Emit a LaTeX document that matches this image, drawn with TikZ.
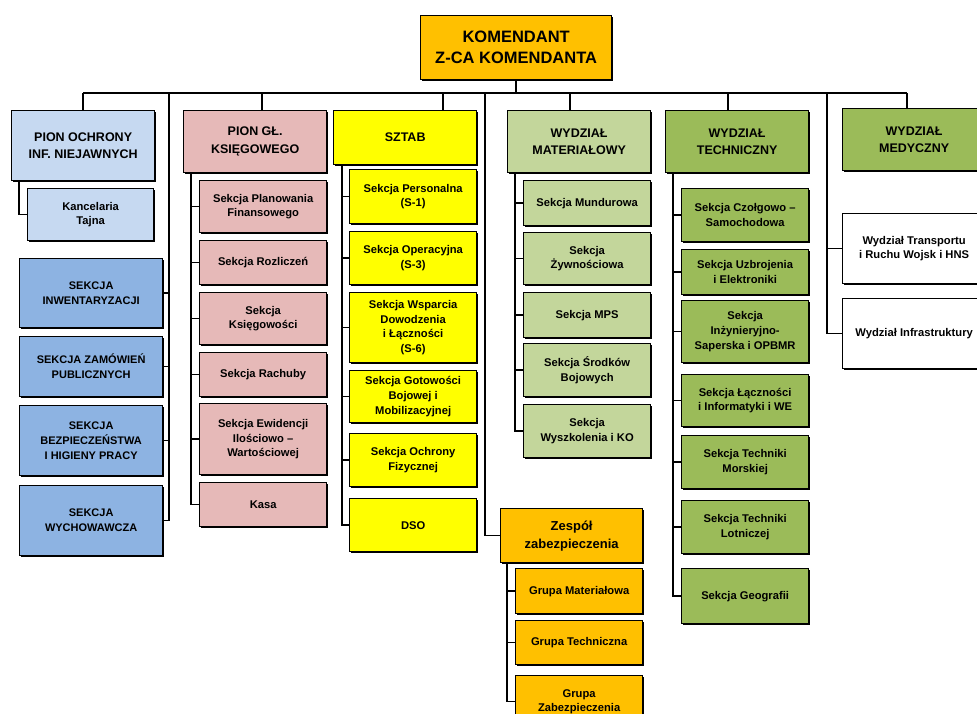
\documentclass[tikz,border=0pt]{standalone}
\usepackage{fontspec}
\setmainfont{Liberation Sans}
\usetikzlibrary{shadows}
\definecolor{orng}{HTML}{FFC000}
\definecolor{lblue}{HTML}{C6D9F1}
\definecolor{mblue}{HTML}{8DB3E2}
\definecolor{pink}{HTML}{E6B9B8}
\definecolor{yell}{HTML}{FFFF00}
\definecolor{lgreen}{HTML}{C3D69B}
\definecolor{green}{HTML}{9BBB59}
\tikzstyle{headbox}=[draw,line width=1.3pt,drop shadow={shadow xshift=1.2pt,shadow yshift=-1.2pt,opacity=1,fill=black},anchor=north west,align=center,inner sep=0pt,minimum width=143pt,minimum height=62pt,font=\fontsize{12.5}{17.5}\selectfont\bfseries]
\tikzstyle{sectbox}=[headbox,minimum width=127pt,minimum height=52pt,font=\fontsize{11.2}{14.8}\selectfont\bfseries]
\tikzstyle{capsbox}=[sectbox,minimum width=143pt,font=\fontsize{11}{15}\selectfont\bfseries]
\tikzstyle{link}=[line width=1.5pt]

\begin{document}
\begin{tikzpicture}[x=1pt,y=-1pt]
\useasboundingbox (0,0) rectangle (977,714);

%top
\node[headbox,fill=orng,minimum width=191pt,minimum height=64pt,font=\fontsize{16.5}{21}\selectfont\bfseries] (kom) at (420,15) {KOMENDANT\\Z-CA KOMENDANTA};

%pion ochrony
\node[headbox,fill=lblue,minimum height=70pt] (pion) at (11,110) {PION OCHRONY\\INF. NIEJAWNYCH};
\node[sectbox,fill=lblue,minimum width=126pt] (kanc) at (27,188) {Kancelaria\\Tajna};
\node[capsbox,fill=mblue,minimum height=69pt] (inw) at (19,258) {SEKCJA\\INWENTARYZACJI};
\node[capsbox,fill=mblue,minimum height=60pt] (zam) at (19,336) {SEKCJA ZAMÓWIEŃ\\PUBLICZNYCH};
\node[capsbox,fill=mblue,minimum height=70pt] (bhp) at (19,405) {SEKCJA\\BEZPIECZEŃSTWA\\I HIGIENY PRACY};
\node[capsbox,fill=mblue,minimum height=70pt] (wych) at (19,485) {SEKCJA\\WYCHOWAWCZA};

%pion gl. ksiegowego
\node[headbox,fill=pink] (ksieg) at (183,110) {PION GŁ.\\KSIĘGOWEGO};
\node[sectbox,fill=pink] (plan) at (199,180) {Sekcja Planowania\\Finansowego};
\node[sectbox,fill=pink,minimum height=44pt] (rozl) at (199,240) {Sekcja Rozliczeń};
\node[sectbox,fill=pink] (ksg) at (199,292) {Sekcja\\Księgowości};
\node[sectbox,fill=pink,minimum height=44pt] (rach) at (199,352) {Sekcja Rachuby};
\node[sectbox,fill=pink,minimum height=71pt] (ewid) at (199,403) {Sekcja Ewidencji\\Ilościowo --\\Wartościowej};
\node[sectbox,fill=pink,minimum height=44pt] (kasa) at (199,482) {Kasa};

%sztab
\node[headbox,fill=yell,minimum height=54pt] (sztab) at (333,110) {SZTAB};
\node[sectbox,fill=yell,minimum height=54pt] (s1) at (349,169) {Sekcja Personalna\\(S-1)};
\node[sectbox,fill=yell,minimum height=53pt] (s3) at (349,231) {Sekcja Operacyjna\\(S-3)};
\node[sectbox,fill=yell,minimum height=70pt] (s6) at (349,292) {Sekcja Wsparcia\\Dowodzenia\\i Łączności\\(S-6)};
\node[sectbox,fill=yell] (gbm) at (349,370) {Sekcja Gotowości\\Bojowej i\\Mobilizacyjnej};
\node[sectbox,fill=yell,minimum height=53pt] (ochr) at (349,433) {Sekcja Ochrony\\Fizycznej};
\node[sectbox,fill=yell,minimum height=53pt] (dso) at (349,498) {DSO};

%zespol
\node[headbox,fill=orng,minimum width=142pt,minimum height=54pt,font=\fontsize{13}{18}\selectfont\bfseries] (zesp) at (500,508) {Zespół\\zabezpieczenia};
\node[sectbox,fill=orng,minimum height=45pt] (gmat) at (515,568) {Grupa Materiałowa};
\node[sectbox,fill=orng,minimum height=44pt] (gtech) at (515,620) {Grupa Techniczna};
\node[sectbox,fill=orng] (gzab) at (515,675) {Grupa\\Zabezpieczenia};

%wydzial materialowy
\node[headbox,fill=lgreen] (mat) at (507,110) {WYDZIAŁ\\MATERIAŁOWY};
\node[sectbox,fill=lgreen,minimum height=45pt] (mund) at (523,180) {Sekcja Mundurowa};
\node[sectbox,fill=lgreen] (zyw) at (523,232) {Sekcja\\Żywnościowa};
\node[sectbox,fill=lgreen,minimum height=45pt] (mps) at (523,292) {Sekcja MPS};
\node[sectbox,fill=lgreen,minimum height=53pt] (srod) at (523,343) {Sekcja Środków\\Bojowych};
\node[sectbox,fill=lgreen,minimum height=53pt] (wysz) at (523,404) {Sekcja\\Wyszkolenia i KO};

%wydzial techniczny
\node[headbox,fill=green] (tech) at (665,110) {WYDZIAŁ\\TECHNICZNY};
\node[sectbox,fill=green,minimum height=53pt] (czol) at (681,188) {Sekcja Czołgowo --\\Samochodowa};
\node[sectbox,fill=green,minimum height=45pt] (uzbr) at (681,249) {Sekcja Uzbrojenia\\i Elektroniki};
\node[sectbox,fill=green,minimum height=62pt] (inz) at (681,300) {Sekcja\\Inżynieryjno-\\Saperska i OPBMR};
\node[sectbox,fill=green] (lacz) at (681,374) {Sekcja Łączności\\i Informatyki i WE};
\node[sectbox,fill=green,minimum height=53pt] (mors) at (681,435) {Sekcja Techniki\\Morskiej};
\node[sectbox,fill=green,minimum height=53pt] (lotn) at (681,500) {Sekcja Techniki\\Lotniczej};
\node[sectbox,fill=green,minimum height=55pt] (geo) at (681,568) {Sekcja Geografii};

%wydzial medyczny
\node[headbox,fill=green] (med) at (842,108) {WYDZIAŁ\\MEDYCZNY};
\node[sectbox,fill=white,minimum width=143pt,minimum height=70pt] (trans) at (842,213) {Wydział Transportu\\i Ruchu Wojsk i HNS};
\node[sectbox,fill=white,minimum width=143pt,minimum height=70pt] (infra) at (842,298) {Wydział Infrastruktury};

%bus
\coordinate (d1) at (83,93);
\coordinate (d2) at (169,93);
\coordinate (d3) at (262,93);
\coordinate (d4) at (443,93);
\coordinate (d5) at (485,93);
\coordinate (d6) at (570,93);
\coordinate (d7) at (728,93);
\coordinate (d8) at (827,93);
\coordinate (d9) at (907,93);
\draw[link,line width=2pt] (d1) -- (d9);
\draw[link] (kom.south) -- (kom.south |- d1);
\foreach \c/\n in {d1/pion,d3/ksieg,d4/sztab,d6/mat,d7/tech,d9/med}
  \draw[link] (\c) -- (\c |- \n.north);
\draw[link] (d2) |- (wych.east);
\foreach \n in {inw,zam,bhp}
  \draw[link] (d2 |- \n.east) -- (\n.east);
\draw[link] (d5) |- (zesp.west);
\draw[link] (d8) |- (infra.west);
\draw[link] (d8 |- trans.west) -- (trans.west);

%trunks
\coordinate (t1) at ([xshift=8pt]pion.south west);
\coordinate (t2) at ([xshift=8pt]ksieg.south west);
\coordinate (t3) at ([xshift=9pt]sztab.south west);
\coordinate (t4) at ([xshift=8pt]mat.south west);
\coordinate (t5) at ([xshift=8pt]tech.south west);
\coordinate (t6) at ([xshift=7pt]zesp.south west);
\draw[link] (t1) |- (kanc.west);
\draw[link] (t2) |- (kasa.west);
\foreach \n in {plan,rozl,ksg,rach,ewid}
  \draw[link] (t2 |- \n.west) -- (\n.west);
\draw[link] (t3) |- (dso.west);
\foreach \n in {s1,s3,s6,gbm,ochr}
  \draw[link] (t3 |- \n.west) -- (\n.west);
\draw[link] (t4) |- (wysz.west);
\foreach \n in {mund,zyw,mps,srod}
  \draw[link] (t4 |- \n.west) -- (\n.west);
\draw[link] (t5) |- (geo.west);
\foreach \n in {czol,uzbr,inz,lacz,mors,lotn}
  \draw[link] (t5 |- \n.west) -- (\n.west);
\draw[link] (t6) |- (gzab.west);
\foreach \n in {gmat,gtech}
  \draw[link] (t6 |- \n.west) -- (\n.west);

\end{tikzpicture}
\end{document}
